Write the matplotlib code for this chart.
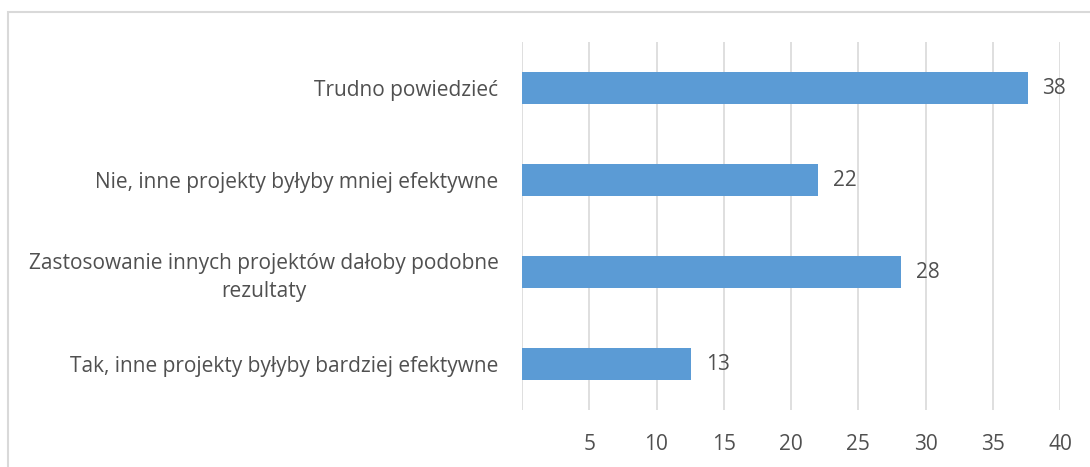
import matplotlib.pyplot as plt
from matplotlib.patches import Rectangle

categories = [
    "Tak, inne projekty byłyby bardziej efektywne",
    "Zastosowanie innych projektów dałoby podobne\nrezultaty",
    "Nie, inne projekty byłyby mniej efektywne",
    "Trudno powiedzieć",
]
values = [12.6, 28.2, 22.0, 37.6]
xticks = [5, 10, 15, 20, 25, 30, 35, 40]

plt.rcParams['font.family'] = ['Open Sans', 'DejaVu Sans']
text_color = "#505050"

fig = plt.figure(figsize=(10.9, 4.67), dpi=100)
ax = fig.add_axes([522 / 1090, 1 - 410 / 467, (1060 - 522) / 1090, 368 / 467])

# light border round the chart area (cut off at right and bottom)
fig.patches.append(Rectangle((8 / 1090, -0.1), 1.2, 1.1 - 12 / 467, transform=fig.transFigure,
                             fill=False, edgecolor="#D9D9D9", linewidth=1.5))

ypos = list(range(len(categories)))
bars = ax.barh(ypos, values, height=0.35, color="#5B9BD5", zorder=3)
for y, v in zip(ypos, values):
    ax.text(v + 1.1, y, f"{v:.0f}", va="center", ha="left", fontsize=15, color=text_color)

ax.set_xlim(0, 40)
ax.set_ylim(-0.5, len(categories) - 0.5)
ax.set_xticks([0] + xticks)
ax.set_xticklabels([""] + [str(t) for t in xticks])
ax.set_yticks(ypos)
ax.set_yticklabels(categories, multialignment="center", linespacing=1.4)
ax.tick_params(axis="both", length=0, labelsize=15, labelcolor=text_color)
ax.tick_params(axis="x", pad=17)
ax.tick_params(axis="y", pad=17)
ax.grid(axis="x", color="#D9D9D9", linewidth=1.2, zorder=0)
for s in ax.spines.values():
    s.set_visible(False)

fig.savefig("out.png", dpi=100)
